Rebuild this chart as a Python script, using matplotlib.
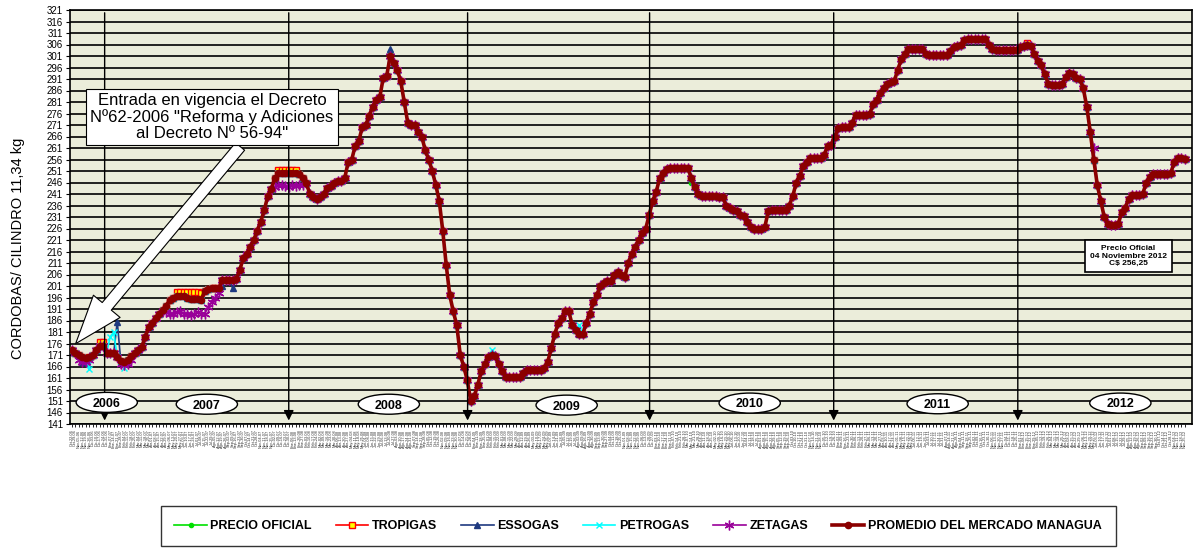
import matplotlib
matplotlib.use('Agg')
import matplotlib.pyplot as plt
from matplotlib.patches import Ellipse, FancyArrowPatch
import pandas as pd

plt.rcParams['font.family'] = ['Liberation Sans', 'DejaVu Sans']

# ---------------- data ----------------
promedio = [
    173, 172, 171, 170, 169.5, 170, 171, 173, 175, 175,
    172, 172, 172, 170, 168.5, 168, 169, 170.5, 172, 173,
    174.5, 179, 183, 185, 187, 189, 190.5, 192.5, 195, 196,
    196.5, 196.5, 196.5, 196, 195.5, 195.5, 195.5, 195, 199, 199.5,
    200, 200, 200, 203.5, 203.5, 203.5, 203.5, 204, 208, 213,
    215, 218, 221, 225, 229, 234, 240, 243, 248, 250,
    250, 250, 250, 250, 250, 249.5, 248, 246, 241, 239.5,
    239, 239.5, 241, 243.5, 244.5, 246, 246.5, 246.5, 248, 255,
    256, 262, 264, 270, 271, 275, 279, 282, 283, 291.5,
    292.5, 301, 298, 295, 290, 281, 272, 271, 271, 268,
    266, 260, 256, 251, 245, 238, 225, 210, 197, 190,
    184, 171, 166, 160, 151, 153, 158, 164, 167, 170,
    171, 170.5, 167, 164, 161.5, 161.5, 161.5, 161.5, 161.5, 163,
    164.5, 164.5, 164.5, 164.5, 164.5, 165.5, 168, 174, 180, 185,
    187, 190, 190, 184, 182, 180, 180, 185, 189, 194,
    197, 201, 202.5, 203, 203, 206, 207, 206, 205, 211,
    215, 218, 221, 224, 226, 232, 238, 242, 248, 250,
    252, 252.5, 252.5, 252.5, 252.5, 252.5, 252.5, 248, 244, 241,
    240, 240, 240, 240, 240, 239.5, 239.5, 236, 235, 234,
    233.5, 232, 231.5, 229, 226.5, 226, 226, 226, 226.5, 233.5,
    234, 234, 234, 234, 234, 236, 240, 246, 249, 253,
    255, 256.5, 256.5, 256.5, 256.5, 258, 262, 262.5, 266, 269.5,
    270, 270, 270, 272, 275.5, 275.5, 275.5, 275.5, 276, 280,
    282, 285, 287, 289, 289.5, 290, 295, 299.5, 302, 304,
    304, 304, 304, 304, 302, 301.5, 301.5, 301.5, 301.5, 301.5,
    301.5, 303, 305, 305.5, 306, 308, 308.5, 308.5, 308.5, 308.5,
    308.5, 308.5, 306, 304, 303.5, 303.5, 303.5, 303.5, 303.5, 303.5,
    303.5, 305, 305.5, 306, 305.5, 302, 299, 297, 293, 289,
    288.5, 288.5, 288.5, 289, 292, 293.5, 293, 291.5, 291, 287,
    279, 268, 256, 245, 238, 231, 228, 227.5, 227.5, 228,
    233, 235, 239, 240.5, 240.5, 240.5, 241, 246, 248.5, 249.5,
    249.5, 249.5, 249.5, 249.5, 250, 255, 256.5, 256.5, 256.25,
]

# readings where a company's price departs from the market average
oficial_idx = [177]
oficial_val = [246]
tropigas_idx = [8, 9, 30, 31, 32, 33, 34, 35, 36, 37, 59, 60, 61, 62, 63, 64, 273]
tropigas_val = [176.5, 176.5, 198.5, 198.5, 198.5, 198.5, 198.5, 198.5, 198.5, 198, 251.5, 251.5, 251.5, 251.5, 251.5, 251.5, 306.5]
essogas_idx = [3, 4, 12, 13, 43, 46, 91]
essogas_val = [168, 168, 172, 185.5, 201, 200, 304]
petrogas_idx = [5, 11, 12, 15, 120, 145]
petrogas_val = [165, 179, 181, 165.5, 173, 184]
zetagas_idx = [2, 3, 4, 5, 14, 15, 16, 17, 26, 27, 28, 29, 30, 31, 32, 33, 34, 35, 36, 37,
               38, 39, 40, 41, 42, 58, 59, 60, 61, 62, 63, 64, 65, 66, 292]
zetagas_val = [169, 168, 168, 169, 167, 166.5, 167, 169, 190, 189.5, 189, 189, 189.5, 190, 189, 189, 188.5, 189, 189.5, 189,
               189, 192, 194, 196, 198, 244, 245, 245, 244.5, 244, 245, 244.5, 245, 245, 261]

series_names = ['PRECIO OFICIAL', 'TROPIGAS', 'ESSOGAS', 'PETROGAS', 'ZETAGAS',
                'PROMEDIO DEL MERCADO MANAGUA']
year_labels = ['2006', '2007', '2008', '2009', '2010', '2011', '2012']
yticks = list(range(141, 322, 5))

meses = ['Ene', 'Feb', 'Mar', 'Abr', 'May', 'Jun', 'Jul', 'Ago', 'Sep', 'Oct', 'Nov', 'Dic']
fechas = pd.date_range('2006-10-22', periods=len(promedio), freq='7D')
xtick_labels = [f"{meses[d.month - 1]}-{d.day:02d}-{d.strftime('%y')}" for d in fechas]


def with_overrides(base, idx, val):
    s = list(base)
    for i, v in zip(idx, val):
        s[i] = v
    return s


oficial = with_overrides(promedio, oficial_idx, oficial_val)
tropigas = with_overrides(promedio, tropigas_idx, tropigas_val)
essogas = with_overrides(promedio, essogas_idx, essogas_val)
petrogas = with_overrides(promedio, petrogas_idx, petrogas_val)
zetagas = with_overrides(promedio, zetagas_idx, zetagas_val)

# ---------------- figure ----------------
W, H = 1195, 548
fig = plt.figure(figsize=(W / 100, H / 100), dpi=100)
L, R, T, B = 70, 1192, 10, 424
ax = fig.add_axes([L / W, 1 - B / H, (R - L) / W, (B - T) / H])
ax.set_facecolor('#EBEDDA')

x = list(range(len(promedio)))
styles = [
    (oficial, dict(color='#00E000', marker='o', ms=3, mfc='#00E000', mec='#00E000', lw=1.2)),
    (tropigas, dict(color='#FF0000', marker='s', ms=5, mfc='#FFFF00', mec='#FF0000', mew=1, lw=1.2)),
    (essogas, dict(color='#1F3A80', marker='^', ms=5, mfc='#1F3A80', mec='#1F3A80', lw=1.2)),
    (petrogas, dict(color='#00FFFF', marker='x', ms=5, mew=1, lw=1.2)),
    (zetagas, dict(color='#990099', marker=(6, 2, 0), ms=7, mew=1, lw=1.2)),
    (promedio, dict(color='#8B0000', marker='o', ms=4.5, mfc='#8B0000', mec='#8B0000', lw=2.6)),
]
handles = []
for (s, st), name in zip(styles, series_names):
    h, = ax.plot(x, s, label=name, zorder=3, **st)
    handles.append(h)

ax.set_ylim(141, 321)
ax.set_xlim(-0.5, (R - L) / 3.5 - 0.5)
ax.set_yticks(yticks)
ax.set_yticklabels([str(v) for v in yticks], fontsize=7)
ax.yaxis.grid(True, color='black', lw=1.2)
ax.set_axisbelow(True)
ax.set_xticks(x)
ax.set_xticklabels(xtick_labels, rotation=90, fontsize=2.8, color='#333333')
ax.tick_params(axis='x', length=2, width=0.6, pad=2)
ax.tick_params(axis='y', length=3, width=0.8, pad=2)
for sp in ax.spines.values():
    sp.set_color('black')
    sp.set_linewidth(1.2)

# year separator arrows
year_line_pos = [9.4, 62.0, 113.1, 165.1, 217.7, 270.3]
for xp in year_line_pos:
    ax.annotate('', xy=(xp, 141.3), xytext=(xp, 321),
                arrowprops=dict(arrowstyle='-|>,head_length=0.6,head_width=0.3', color='black', lw=1.0),
                zorder=4)

# year ellipses
year_pos = [(10.0, 150.4), (38.6, 149.6), (90.6, 149.6), (141.4, 149.2), (193.7, 150.1), (247.4, 149.8), (299.6, 150.1)]
for (xc, yc), lab in zip(year_pos, year_labels):
    ax.add_patch(Ellipse((xc, yc), 17.5, 8.7, facecolor='white', edgecolor='black', lw=1.0, zorder=5))
    ax.text(xc, yc - 0.6, lab, ha='center', va='center', fontsize=9, fontweight='bold', zorder=6)

# decree annotation with big hollow arrow
arrow = FancyArrowPatch((48.6, 262.6), (0.6, 175.0),
                        arrowstyle='simple,head_length=3.5,head_width=2.5,tail_width=0.85',
                        mutation_scale=10, fc='white', ec='black', lw=0.8, zorder=7)
ax.add_patch(arrow)
ax.text((212 - L) / (R - L), 1 - (117 - T) / (B - T),
        'Entrada en vigencia el Decreto\nNº62-2006 "Reforma y Adiciones\nal Decreto Nº 56-94"',
        transform=ax.transAxes, ha='center', va='center', fontsize=12, linespacing=1.1,
        bbox=dict(boxstyle='square,pad=0.25', fc='white', ec='black', lw=0.8), zorder=8)

# official price box
ax.text((1128 - L) / (R - L), 1 - (256 - T) / (B - T),
        'Precio Oficial\n04 Noviembre 2012\nC$ 256,25',
        transform=ax.transAxes, ha='center', va='center', fontsize=6, fontweight='bold',
        linespacing=1.1, bbox=dict(boxstyle='square,pad=0.6', fc='white', ec='black', lw=1.2), zorder=8)

fig.text(18 / W, 1 - 248 / H, 'CORDOBAS/ CILINDRO 11,34 kg', rotation=90,
         ha='center', va='center', fontsize=10.5)

leg = fig.legend(handles=handles, loc='center', bbox_to_anchor=(638 / W, 1 - 526 / H), ncol=6,
                 frameon=True, fancybox=False, edgecolor='black',
                 prop=dict(weight='bold', size=9), handlelength=2.6, columnspacing=1.9,
                 borderpad=1.1, handletextpad=0.3, borderaxespad=0)
leg.get_frame().set_linewidth(1.0)

fig.savefig('out.png', dpi=100)
